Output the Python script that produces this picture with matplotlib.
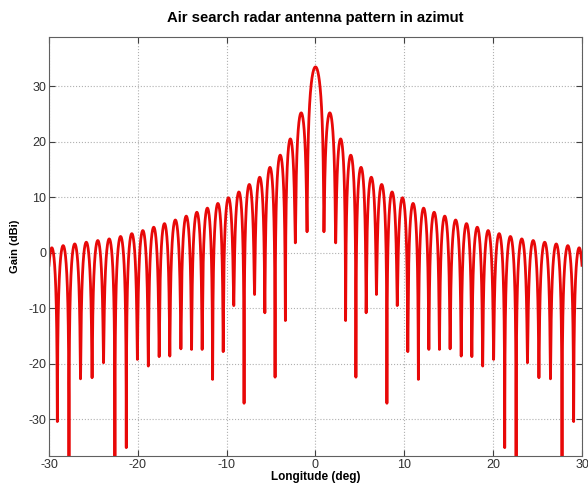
import matplotlib
matplotlib.use("Agg")
import matplotlib.pyplot as plt
import numpy as np

plt.rcParams['font.family'] = ['Liberation Sans', 'DejaVu Sans']
plt.rcParams['axes.unicode_minus'] = False

# null positions (deg) and null depths (dBi)
null_deg = [-30.30, -29.06, -27.75, -26.45, -25.15, -23.86, -22.58, -21.30,
            -20.05, -18.82, -17.60, -16.40, -15.15, -13.95, -12.76, -11.58,
            -10.39, -9.20, -8.04, -6.86, -5.70, -4.55, -3.39, -2.27, -0.95,
            0.95, 2.27, 3.39, 4.55, 5.70, 6.86, 8.04, 9.20, 10.39, 11.58,
            12.76, 13.95, 15.15, 16.40, 17.60, 18.82, 20.05, 21.30, 22.58,
            23.86, 25.15, 26.45, 27.75, 29.06, 30.30]
null_db = [-15.0, -30.4, -45.0, -22.7, -22.5, -19.8, -45.0, -35.1,
           -19.2, -20.4, -18.7, -18.6, -17.3, -17.4, -17.4, -22.8,
           -17.8, -9.5, -27.1, -7.5, -10.8, -22.4, -12.2, 1.8, 3.8,
           3.8, 1.8, -12.2, -22.4, -10.8, -7.5, -27.1, -9.5, -17.8, -22.8,
           -17.4, -17.4, -17.3, -18.6, -18.7, -20.4, -19.2, -35.1, -45.0,
           -19.8, -22.5, -22.7, -45.0, -30.4, -15.0]
# peak gain of each lobe between two consecutive nulls
lobe_peak_db = [0.85, 1.3, 1.6, 1.9, 2.2, 2.5, 2.95, 3.45, 4.0, 4.6, 5.25, 5.9,
                6.6, 7.3, 8.05, 8.9, 9.9, 10.95, 12.3, 13.6, 15.4, 17.6, 20.5,
                25.2, 33.5, 25.2, 20.5, 17.6, 15.4, 13.6, 12.3, 10.95, 9.9,
                8.9, 8.05, 7.3, 6.6, 5.9, 5.25, 4.6, 4.0, 3.45, 2.95, 2.5,
                2.2, 1.9, 1.6, 1.3, 0.85]

xs, ys = [], []
t = np.linspace(0, 1, 240)
u = (1 - np.cos(np.pi * t)) / 2
for i in range(len(lobe_peak_db)):
    a, b = null_deg[i], null_deg[i + 1]
    da, db = 10 ** (null_db[i] / 10), 10 ** (null_db[i + 1] / 10)
    p = 10 ** (lobe_peak_db[i] / 10) * np.sin(np.pi * u) ** 2 + (1 - u) * da + u * db
    xs.append(a + (b - a) * u)
    ys.append(10 * np.log10(p))
x = np.concatenate(xs)
y = np.concatenate(ys)

fig = plt.figure(figsize=(5.88, 4.84), dpi=100)
ax = fig.add_axes([0.0833, 0.0579, 0.9065, 0.8657])
ax.plot(x, y, color='#e80808', lw=2.0, solid_joinstyle='round')
ax.set_xlim(-30, 30)
ax.set_ylim(-36.6, 38.9)
ax.set_xticks(np.arange(-30, 31, 10))
ax.set_yticks(np.arange(-30, 31, 10))
ax.grid(True, linestyle=':', color='#b0b0b0', lw=0.8)
ax.tick_params(direction='in', top=True, right=True, length=4, pad=2,
               labelsize=9, colors='#404040', labelcolor='#303030')
for s in ax.spines.values():
    s.set_color('#606060')
ax.set_title('Air search radar antenna pattern in azimut', fontsize=10.7,
             fontweight='bold', pad=11)
ax.set_xlabel('Longitude (deg)', fontsize=8.5, fontweight='bold', labelpad=0)
ax.set_ylabel('Gain (dBi)', fontsize=8, fontweight='bold', labelpad=6)
fig.savefig('out.png', dpi=100)
